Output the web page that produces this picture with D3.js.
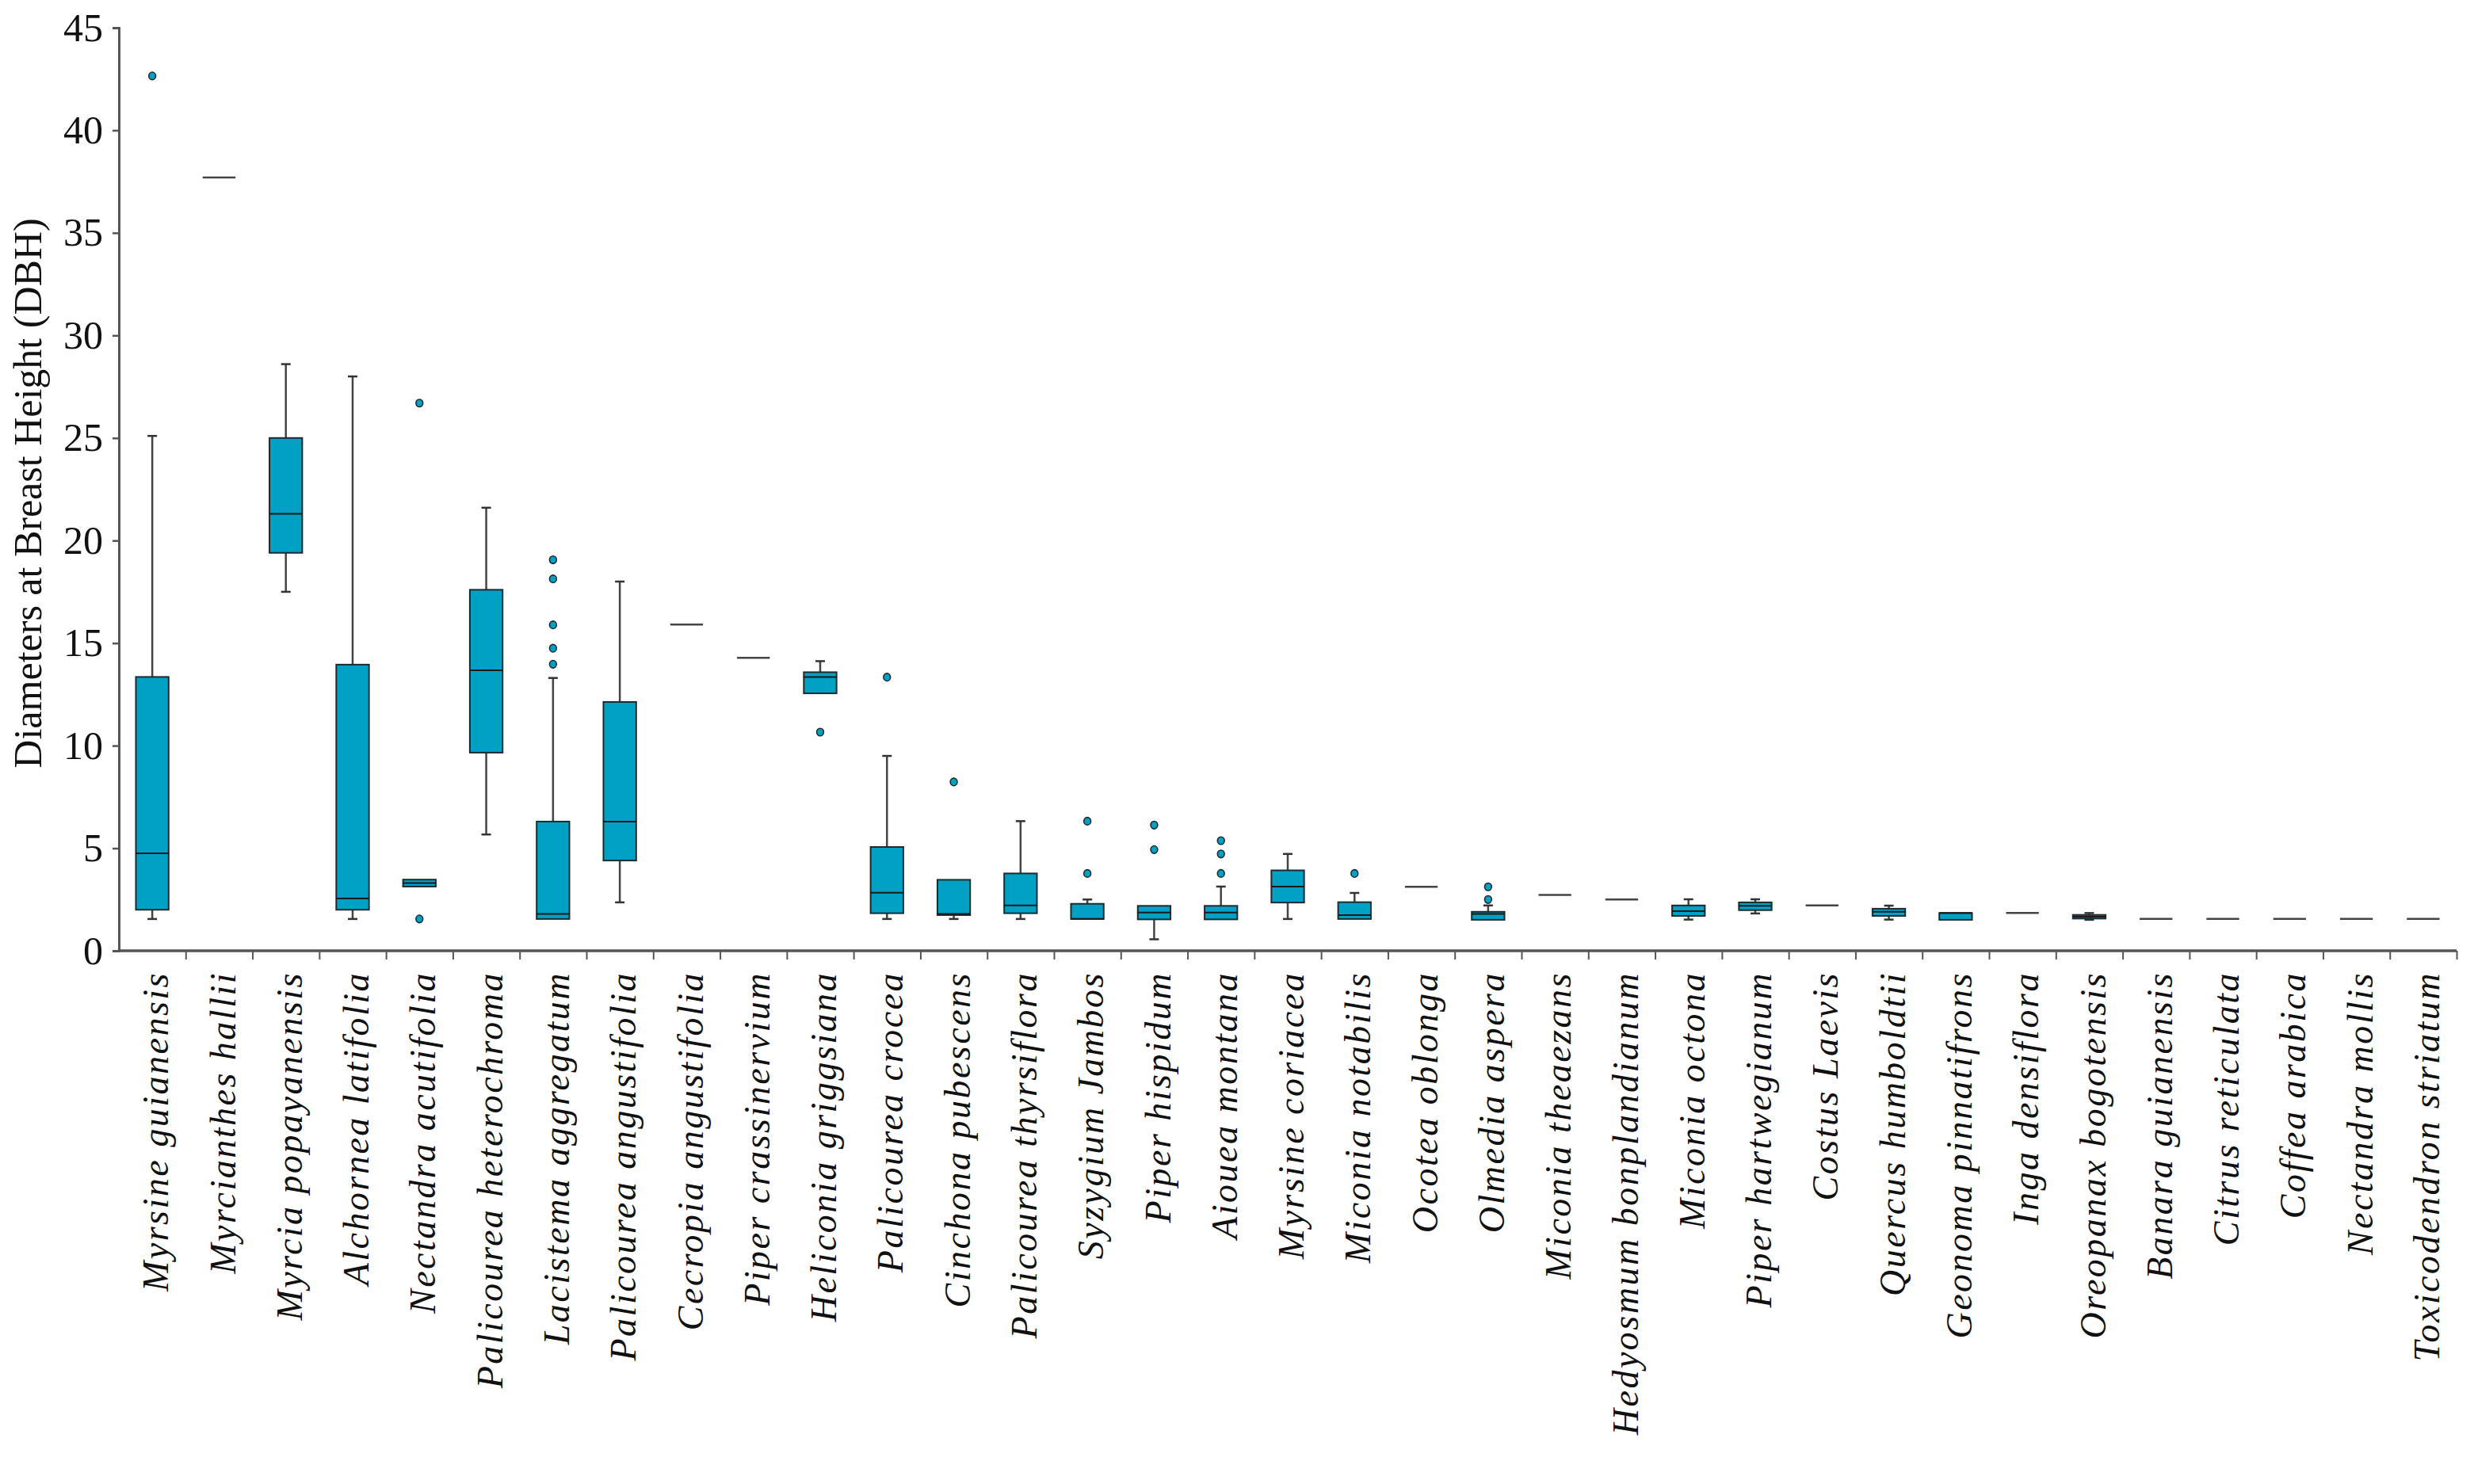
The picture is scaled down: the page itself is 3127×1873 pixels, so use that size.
<!DOCTYPE html>
<html>
<head>
<meta charset="utf-8">
<script src="https://cdn.jsdelivr.net/npm/d3@7"></script>
<style>
  html, body { margin: 0; padding: 0; background: #fff; }
  svg { display: block; }
</style>
</head>
<body>
<svg id="chart" width="3127" height="1873"></svg>
<script>
const categories = ["Myrsine guianensis","Myrcianthes hallii","Myrcia popayanensis","Alchornea latifolia","Nectandra acutifolia","Palicourea heterochroma","Lacistema aggregatum","Palicourea angustifolia","Cecropia angustifolia","Piper crassinervium","Heliconia griggsiana","Palicourea crocea","Cinchona pubescens","Palicourea thyrsiflora","Syzygium Jambos","Piper hispidum","Aiouea montana","Myrsine coriacea","Miconia notabilis","Ocotea oblonga","Olmedia aspera","Miconia theaezans","Hedyosmum bonplandianum","Miconia octona","Piper hartwegianum","Costus Laevis","Quercus humboldtii","Geonoma pinnatifrons","Inga densiflora","Oreopanax bogotensis","Banara guianensis","Citrus reticulata","Coffea arabica","Nectandra mollis","Toxicodendron striatum"];

const whiskerLow  = [1.55,37.7,17.5,1.55,3.13,5.67,1.55,2.36,15.9,14.28,12.55,1.55,1.55,1.55,1.55,0.56,1.53,1.55,1.55,3.12,1.51,2.72,2.5,1.52,1.82,2.21,1.52,1.51,1.84,1.51,1.55,1.55,1.55,1.55,1.55];
const q1          = [2.0,37.7,19.4,2.0,3.13,9.66,1.55,4.4,15.9,14.28,12.55,1.83,1.74,1.83,1.55,1.53,1.53,2.35,1.55,3.12,1.51,2.72,2.5,1.70,1.98,2.21,1.70,1.51,1.84,1.57,1.55,1.55,1.55,1.55,1.55];
const median      = [4.75,37.7,21.3,2.55,3.3,13.67,1.8,6.3,15.9,14.28,13.35,2.83,1.80,2.21,1.55,1.86,1.86,3.13,1.74,3.12,1.8,2.72,2.5,1.93,2.19,2.21,1.9,1.84,1.84,1.66,1.55,1.55,1.55,1.55,1.55];
const q3          = [13.35,37.7,25.0,13.95,3.47,17.6,6.3,12.13,15.9,14.28,13.58,5.06,3.46,3.77,2.29,2.19,2.19,3.92,2.37,3.12,1.9,2.72,2.5,2.21,2.36,2.21,2.05,1.84,1.84,1.75,1.55,1.55,1.55,1.55,1.55];
const whiskerHigh = [25.1,37.7,28.6,28.0,3.47,21.6,13.3,18.0,15.9,14.28,14.12,9.5,3.46,6.32,2.5,2.19,3.13,4.72,2.82,3.12,2.21,2.72,2.5,2.51,2.51,2.21,2.2,1.84,1.84,1.84,1.55,1.55,1.55,1.55,1.55];
const outliers    = [[42.65],[],[],[],[26.7,1.55],[],[19.06,18.13,15.89,14.75,13.97],[],[],[],[10.66],[13.34],[8.23],[],[6.32,3.77],[6.13,4.93],[5.37,4.72,3.77],[],[3.77],[],[3.12,2.5],[],[],[],[],[],[],[],[],[],[],[],[],[],[]];
const yTicks = [0,5,10,15,20,25,30,35,40,45];
const yTitle = "Diameters at Breast Height (DBH)";

const data = categories.map((c,i)=>({name:c, lo:whiskerLow[i], q1:q1[i], med:median[i], q3:q3[i], hi:whiskerHigh[i], out:outliers[i]}));

const svg = d3.select("#chart");
const mLeft = 150, mRight = 3100, mTop = 35, mBottom = 1200;

const x = d3.scaleBand().domain(categories).range([mLeft, mRight]).paddingInner(0).paddingOuter(0);
const xEdge = d3.scaleLinear().domain([0, categories.length]).range([mLeft, mRight]);
const y = d3.scaleLinear().domain([0,45]).range([mBottom, mTop]);

const fill = "#00a1c4";
const boxW = x.bandwidth()*0.49;
const capW = 12;

// Y axis
const yAxis = svg.append("g").attr("transform",`translate(${mLeft},0)`)
  .call(d3.axisLeft(y).tickValues(yTicks).tickSize(8).tickPadding(12).tickFormat(d3.format("d")));
yAxis.select(".domain").attr("stroke","#555").attr("stroke-width",3);
yAxis.selectAll(".tick line").attr("stroke","#555").attr("stroke-width",2.5);
yAxis.selectAll("text").attr("font-family","'Liberation Serif', 'Times New Roman', serif").attr("font-size",50).attr("fill","#111");

// X axis
const xAxis = svg.append("g").attr("transform",`translate(0,${mBottom})`)
  .call(d3.axisBottom(xEdge).tickValues(d3.range(1, categories.length+1)).tickSize(11).tickFormat(""));
xAxis.select(".domain").attr("stroke","#555").attr("stroke-width",3.5).attr("d",`M${mLeft},0H${mRight}`);
xAxis.selectAll(".tick line").attr("stroke","#555").attr("stroke-width",2);

// X labels
svg.append("g").selectAll("text").data(categories).join("text")
  .attr("transform", d=>`translate(${x(d)+x.bandwidth()/2+4},${mBottom+26}) rotate(-90)`)
  .attr("text-anchor","end").attr("dy","0.35em")
  .attr("font-family","'Liberation Serif', 'Times New Roman', serif")
  .attr("font-style","italic").attr("font-size",46).attr("letter-spacing",2.5)
  .attr("fill","#111")
  .text(d=>d);

// Y title
svg.append("text")
  .attr("transform",`translate(34,${(mTop+mBottom)/2+5}) rotate(-90)`)
  .attr("text-anchor","middle").attr("dy","0.35em")
  .attr("font-family","'Liberation Serif', 'Times New Roman', serif")
  .attr("font-size",50).attr("fill","#111")
  .text(yTitle);

// Boxes
const g = svg.append("g");
data.forEach(d=>{
  const cx = x(d.name) + x.bandwidth()/2;
  const single = d.lo===d.hi;
  if (single) {
    g.append("line").attr("x1",cx-boxW/2).attr("x2",cx+boxW/2).attr("y1",y(d.med)).attr("y2",y(d.med))
      .attr("stroke","#444").attr("stroke-width",2.5);
    return;
  }
  if (d.hi > d.q3) {
    g.append("line").attr("x1",cx).attr("x2",cx).attr("y1",y(d.q3)).attr("y2",y(d.hi)).attr("stroke","#444").attr("stroke-width",2.5);
    g.append("line").attr("x1",cx-capW/2).attr("x2",cx+capW/2).attr("y1",y(d.hi)).attr("y2",y(d.hi)).attr("stroke","#333").attr("stroke-width",2.5);
  }
  if (d.lo < d.q1) {
    g.append("line").attr("x1",cx).attr("x2",cx).attr("y1",y(d.q1)).attr("y2",y(d.lo)).attr("stroke","#444").attr("stroke-width",2.5);
    g.append("line").attr("x1",cx-capW/2).attr("x2",cx+capW/2).attr("y1",y(d.lo)).attr("y2",y(d.lo)).attr("stroke","#333").attr("stroke-width",2.5);
  }
  g.append("rect").attr("x",cx-boxW/2).attr("width",boxW)
    .attr("y",y(d.q3)).attr("height",Math.max(2, y(d.q1)-y(d.q3)))
    .attr("fill",fill).attr("stroke","#1f2a2e").attr("stroke-width",2);
  g.append("line").attr("x1",cx-boxW/2).attr("x2",cx+boxW/2).attr("y1",y(d.med)).attr("y2",y(d.med))
    .attr("stroke","#1a1a1a").attr("stroke-width",2);
  d.out.forEach(v=>{
    g.append("ellipse").attr("cx",cx).attr("cy",y(v)).attr("rx",4.4).attr("ry",4.8)
      .attr("fill",fill).attr("stroke","#1f2a2e").attr("stroke-width",1.6);
  });
});
</script>
</body>
</html>
